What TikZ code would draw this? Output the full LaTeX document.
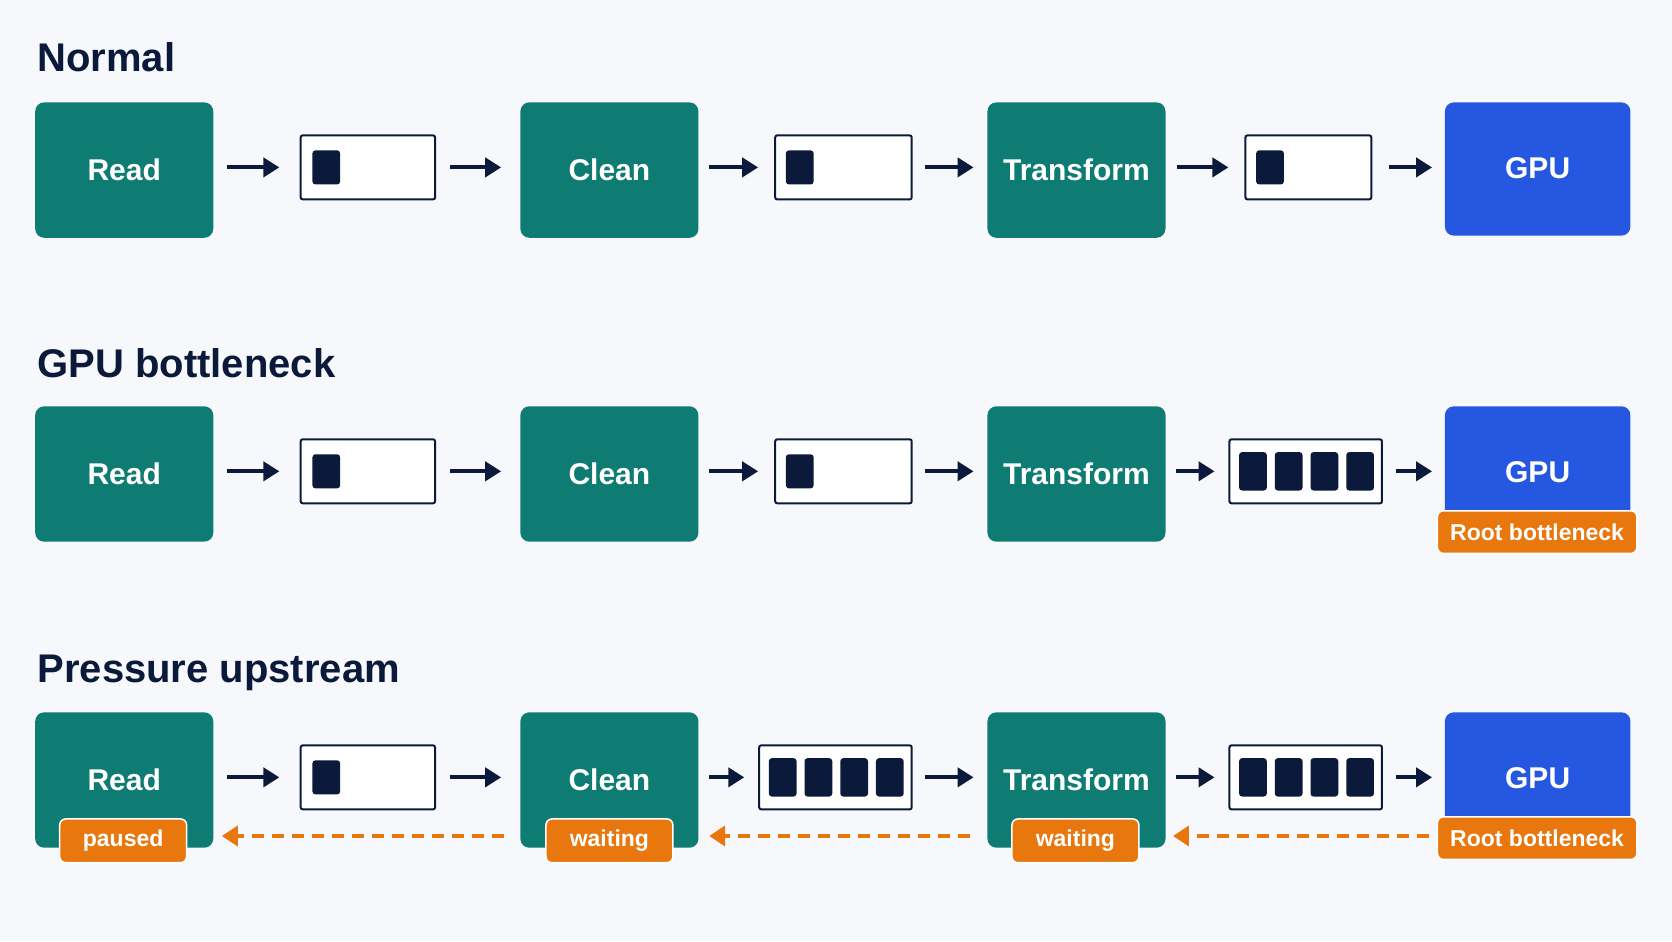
\documentclass[tikz,border=0pt]{standalone}
\usepackage{fontspec}
\setmainfont{Liberation Sans}
\usetikzlibrary{arrows.meta}
\definecolor{bg}{HTML}{F7F8FB}
\definecolor{teal}{HTML}{0E7C73}
\definecolor{gblue}{HTML}{2557E0}
\definecolor{org}{HTML}{E8770E}
\definecolor{navy}{HTML}{0B1A3A}
\begin{document}
\begin{tikzpicture}[x=1.0663pt,y=-1.0663pt,
  stage/.style={rounded corners=9pt,font=\bfseries\fontsize{30}{34}\selectfont,text=white,inner sep=0},
  queue/.style={draw=navy,line width=2pt,fill=white,rounded corners=2pt},
  blk/.style={fill=navy,rounded corners=3pt},
  flow/.style={navy,line width=4pt,-{Triangle[length=16pt,width=19pt]}},
  back/.style={org,line width=3.6pt,dash pattern=on 12pt off 8pt,-{Triangle[length=16pt,width=20pt]}},
  tag/.style={fill=org,draw=white,line width=1.5pt,rounded corners=6pt,text=white,font=\bfseries\fontsize{23}{26}\selectfont,inner sep=0},
  title/.style={anchor=west,text=navy,font=\bfseries\fontsize{40}{44}\selectfont,inner sep=0}]
\fill[bg] (0,0) rectangle (1568,882.5);
\useasboundingbox (0,0) rectangle (1568,882.5);
\node[title] (t1) at (35,54) {Normal};
\node[title] (t2) at (35,341) {GPU bottleneck};
\node[title] (t3) at (35,631) {Pressure upstream};
\foreach \r/\y in {1/96,2/381,3/668}{
  \fill[teal,rounded corners=9pt] (33,\y) rectangle (200,\y+127);
  \fill[teal,rounded corners=9pt] (488,\y) rectangle (655,\y+127);
  \fill[teal,rounded corners=9pt] (926,\y) rectangle (1093,\y+127);
  \fill[gblue,rounded corners=9pt] (1355,\y) rectangle (1529,\y+125);
  \node[stage] (read\r) at (116.5,\y+63) {Read};
  \node[stage] (clean\r) at (571.5,\y+63) {Clean};
  \node[stage] (tr\r) at (1009.5,\y+63) {Transform};
  \node[stage] (gpu\r) at (1442,\y+62) {GPU};
}
\foreach \r/\y in {1/127,2/412,3/699}{
  \draw[queue] (282,\y) rectangle (408,\y+60);
  \fill[blk] (293,\y+14) rectangle (319,\y+46);
}
\foreach \r/\y in {1/127,2/412}{
  \draw[queue] (727,\y) rectangle (855,\y+60);
  \fill[blk] (737,\y+14) rectangle (763,\y+46);
}
\draw[queue] (1168,127) rectangle (1286,187);
\fill[blk] (1178,141) rectangle (1204,173);
\foreach \n/\x/\y in {qc2/1153/412,qb3/712/699,qc3/1153/699}{
  \draw[queue] (\x,\y) rectangle (\x+143,\y+60);
  \foreach \i in {0,1,2,3}{\fill[blk] (\x+9+\i*33.5,\y+12) rectangle (\x+35+\i*33.5,\y+48);}
}
\foreach \y in {157,442,729}{
  \draw[flow] (213,\y) -- (262,\y); \draw[flow] (422,\y) -- (470,\y);
}
\draw[flow] (665,157) -- (711,157); \draw[flow] (867,157) -- (913,157);
\draw[flow] (1104,157) -- (1152,157); \draw[flow] (1303,157) -- (1343,157);
\draw[flow] (665,442) -- (711,442); \draw[flow] (867,442) -- (913,442);
\draw[flow] (1103,442) -- (1139,442); \draw[flow] (1309,442) -- (1343,442);
\draw[flow] (665,729) -- (698,729); \draw[flow] (867,729) -- (913,729);
\draw[flow] (1103,729) -- (1139,729); \draw[flow] (1309,729) -- (1343,729);
\fill[org,draw=white,line width=1.5pt,rounded corners=6pt] (1348,479) rectangle (1535,519);
\fill[org,draw=white,line width=1.5pt,rounded corners=6pt] (1348,766) rectangle (1535,806);
\fill[org,draw=white,line width=1.5pt,rounded corners=6pt] (56,768) rectangle (175,809);
\fill[org,draw=white,line width=1.5pt,rounded corners=6pt] (512,768) rectangle (631,809);
\fill[org,draw=white,line width=1.5pt,rounded corners=6pt] (949,768) rectangle (1068,809);
\node[tag,fill=none,draw=none] (rb2) at (1441.5,499) {Root bottleneck};
\node[tag,fill=none,draw=none] (rb3) at (1441.5,786) {Root bottleneck};
\node[tag,fill=none,draw=none] (p3) at (115.5,788.5) {paused};
\node[tag,fill=none,draw=none] (w1) at (571.5,788.5) {waiting};
\node[tag,fill=none,draw=none] (w2) at (1008.5,788.5) {waiting};
\draw[back] (473,784) -- (208,784);
\draw[back] (910,784) -- (665,784);
\draw[back] (1340,784) -- (1100,784);
\end{tikzpicture}
\end{document}
